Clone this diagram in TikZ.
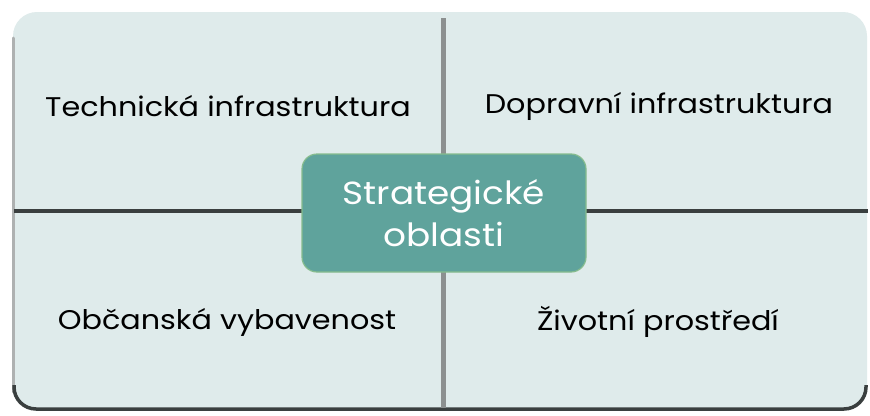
\documentclass[tikz,border=0pt]{standalone}
\usepackage{fontspec}
\setmainfont{Poppins}[FakeStretch=1.12]
\definecolor{quad}{HTML}{DFEBEB}
\definecolor{teal}{HTML}{5FA39C}
\definecolor{tealedge}{HTML}{86BC8E}
\definecolor{shadowdark}{HTML}{3A3F3F}
\definecolor{shadowgray}{HTML}{8C9090}
\begin{document}
\begin{tikzpicture}[x=1pt,y=-1pt,
  quadlabel/.style={font=\fontsize{27}{32}\selectfont, text=black, anchor=center},
  centerbox/.style={draw=tealedge, line width=1.2pt, fill=teal, rounded corners=15pt,
     minimum width=284pt, minimum height=118pt, text=white, align=center,
     font=\fontsize{32}{42}\selectfont}]
\useasboundingbox (0,0) rectangle (870,415);
\fill[white] (0,0) rectangle (870,415);
% quadrant background
\fill[quad, rounded corners=24pt] (13,12) rectangle (867,408);
% shadows
\draw[shadowgray!70, line width=3pt, line cap=round] (13,38) -- (13,392);
\draw[shadowdark, line width=3.5pt, rounded corners=22pt] (14,385) -- (14,409) -- (866,409) -- (866,385);
\draw[shadowdark, line width=3.5pt] (14,211) -- (868,211);
\draw[shadowgray, line width=5pt] (443,18) -- (443,408);
% labels
\node[quadlabel] (tech) at (228,106) {Technická infrastruktura};
\node[quadlabel] (dopr) at (659,106) {Dopravní infrastruktura};
\node[quadlabel] (obc) at (227,322) {Občanská vybavenost};
\node[quadlabel] (ziv) at (658,322) {Životní prostředí};
\node[centerbox] (center) at (444,213) {Strategické\\oblasti};
\end{tikzpicture}
\end{document}
